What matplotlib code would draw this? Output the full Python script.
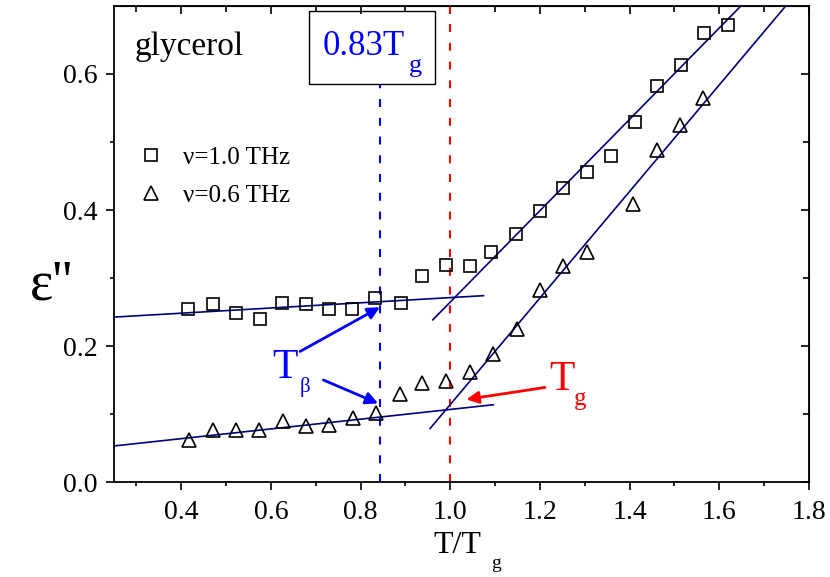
import numpy as np
import matplotlib.pyplot as plt
from matplotlib.patches import Rectangle
from matplotlib.lines import Line2D

plt.rcParams['font.family'] = ['Liberation Serif', 'DejaVu Serif']

# ---- data ----
x_sq = [0.416, 0.470, 0.522, 0.576, 0.625, 0.678, 0.730, 0.780, 0.832, 0.889,
        0.938, 0.990, 1.043, 1.091, 1.147, 1.200, 1.252, 1.306, 1.358, 1.412,
        1.460, 1.514, 1.566, 1.620]
y_sq = [0.254, 0.262, 0.249, 0.240, 0.263, 0.262, 0.255, 0.254, 0.270, 0.263,
        0.303, 0.319, 0.318, 0.338, 0.365, 0.398, 0.432, 0.456, 0.479, 0.529,
        0.582, 0.613, 0.660, 0.672]

x_tri = [0.418, 0.471, 0.522, 0.574, 0.626, 0.678, 0.730, 0.782, 0.834, 0.888,
         0.938, 0.990, 1.043, 1.096, 1.148, 1.200, 1.252, 1.304, 1.408, 1.460,
         1.512, 1.564]
y_tri = [0.0615, 0.076, 0.076, 0.077, 0.090, 0.082, 0.0836, 0.0935, 0.101, 0.130,
         0.146, 0.149, 0.162, 0.188, 0.225, 0.282, 0.317, 0.338, 0.409, 0.488,
         0.525, 0.565]

# linear fits drawn in the figure (end points)
fit_sq_low_x, fit_sq_low_y = [0.25, 1.074], [0.2425, 0.274]
fit_sq_high_x, fit_sq_high_y = [0.961, 1.648], [0.2385, 0.700]
fit_tri_low_x, fit_tri_low_y = [0.25, 1.096], [0.053, 0.1136]
fit_tri_high_x, fit_tri_high_y = [0.955, 1.748], [0.0787, 0.700]

T_beta = 0.843
T_g = 1.0

W, H = 830, 577
fig = plt.figure(figsize=(W / 100, H / 100), dpi=100)
ax = fig.add_axes([114 / W, 1 - 482 / H, 695 / W, 476 / H])


def fp(px, py):
    # pixel position -> figure fraction
    return px / W, 1 - py / H


navy = '#00007f'
for fx, fy in [(fit_sq_low_x, fit_sq_low_y), (fit_sq_high_x, fit_sq_high_y),
               (fit_tri_low_x, fit_tri_low_y), (fit_tri_high_x, fit_tri_high_y)]:
    ax.plot(fx, fy, color=navy, lw=1.2, zorder=2)

ax.plot(x_sq, y_sq, 's', ms=8.3, mfc='none', mec='black', mew=1.2, zorder=3)
ax.plot(x_tri, y_tri, '^', ms=10.5, mfc='none', mec='black', mew=1.2, zorder=3)

dash = (0, (3.8, 5.2))
ax.vlines(T_beta, 0, 0.586, colors='blue', linestyles=[dash], lw=1.5, zorder=1)
ax.vlines(T_g, 0, 0.7, colors='red', linestyles=[dash], lw=1.5, zorder=1)

ax.set_xlim(0.25, 1.8)
ax.set_ylim(0, 0.7)
ax.set_xticks(np.arange(0.4, 1.81, 0.2))
ax.set_xticks(np.arange(0.3, 1.8, 0.2), minor=True)
ax.set_yticks(np.arange(0, 0.61, 0.2))
ax.set_yticks(np.arange(0.1, 0.7, 0.2), minor=True)
ax.xaxis.set_major_formatter(plt.FormatStrFormatter('%.1f'))
ax.yaxis.set_major_formatter(plt.FormatStrFormatter('%.1f'))
ax.tick_params(which='both', direction='out', width=1.2, labelsize=20)
ax.tick_params(which='major', length=6)
ax.tick_params(which='minor', length=3)
ax.tick_params(axis='x', pad=7)
ax.tick_params(axis='y', pad=6)
for s in ax.spines.values():
    s.set_linewidth(1.3)

top = ax.secondary_xaxis('top')
top.set_xticks(np.arange(0.4, 1.81, 0.2))
top.set_xticks(np.arange(0.3, 1.8, 0.2), minor=True)
top.tick_params(which='both', direction='in', labeltop=False, width=1.2)
top.tick_params(which='major', length=6)
top.tick_params(which='minor', length=4)
right = ax.secondary_yaxis('right')
right.set_yticks(np.arange(0, 0.61, 0.2))
right.set_yticks(np.arange(0.1, 0.7, 0.2), minor=True)
right.tick_params(which='both', direction='in', labelright=False, width=1.2)
right.tick_params(which='major', length=6)
right.tick_params(which='minor', length=4)

# legend
h1 = Line2D([], [], ls='none', marker='s', ms=8.3, mfc='none', mec='black', mew=1.2)
h2 = Line2D([], [], ls='none', marker='^', ms=10.5, mfc='none', mec='black', mew=1.2)
ax.legend([h1, h2], ['ν=1.0 THz', 'ν=0.6 THz'], loc='upper left',
          bbox_to_anchor=((138.5 - 114) / 695, (482 - 146) / 476), frameon=False,
          fontsize=18, handlelength=1.0, handletextpad=0.78, borderpad=0,
          borderaxespad=0, labelspacing=0.62, numpoints=1)

# texts
fig.text(*fp(135, 55), 'glycerol', fontsize=24, va='baseline')
fig.patches.append(Rectangle(fp(309, 84.3), 126 / W, 73.6 / H, fill=False,
                             ec='black', lw=1.0, transform=fig.transFigure))
fig.text(*fp(323, 55), '0.83T', fontsize=25, color='blue', va='baseline')
fig.text(*fp(409, 72), 'g', fontsize=19, color='blue', va='baseline')

fig.text(*fp(272, 378), 'T', fontsize=30, color='blue', va='baseline')
fig.text(*fp(305, 387), 'β', fontsize=15, color='blue', va='center', ha='center')
fig.text(*fp(549, 390), 'T', fontsize=30, color='red', va='baseline')
fig.text(*fp(574, 404.5), 'g', fontsize=18, color='red', va='baseline')

arw = dict(arrowstyle='-|>', lw=2, mutation_scale=18, shrinkA=0, shrinkB=0)
ax.annotate('', xy=(0.843, 0.257), xytext=(0.665, 0.192),
            arrowprops=dict(color='blue', **arw))
ax.annotate('', xy=(0.839, 0.1156), xytext=(0.717, 0.150),
            arrowprops=dict(color='blue', **arw))
ax.annotate('', xy=(1.036, 0.1215), xytext=(1.211, 0.139),
            arrowprops=dict(color='red', **arw))

# axis labels
fig.text(*fp(433, 553), 'T/T', fontsize=23, va='baseline')
fig.text(*fp(491, 568), 'g', fontsize=14, va='baseline')
fig.text(*fp(51, 286), "ε''", fontsize=40, va='center', ha='center')

fig.savefig('out.png', dpi=100)
